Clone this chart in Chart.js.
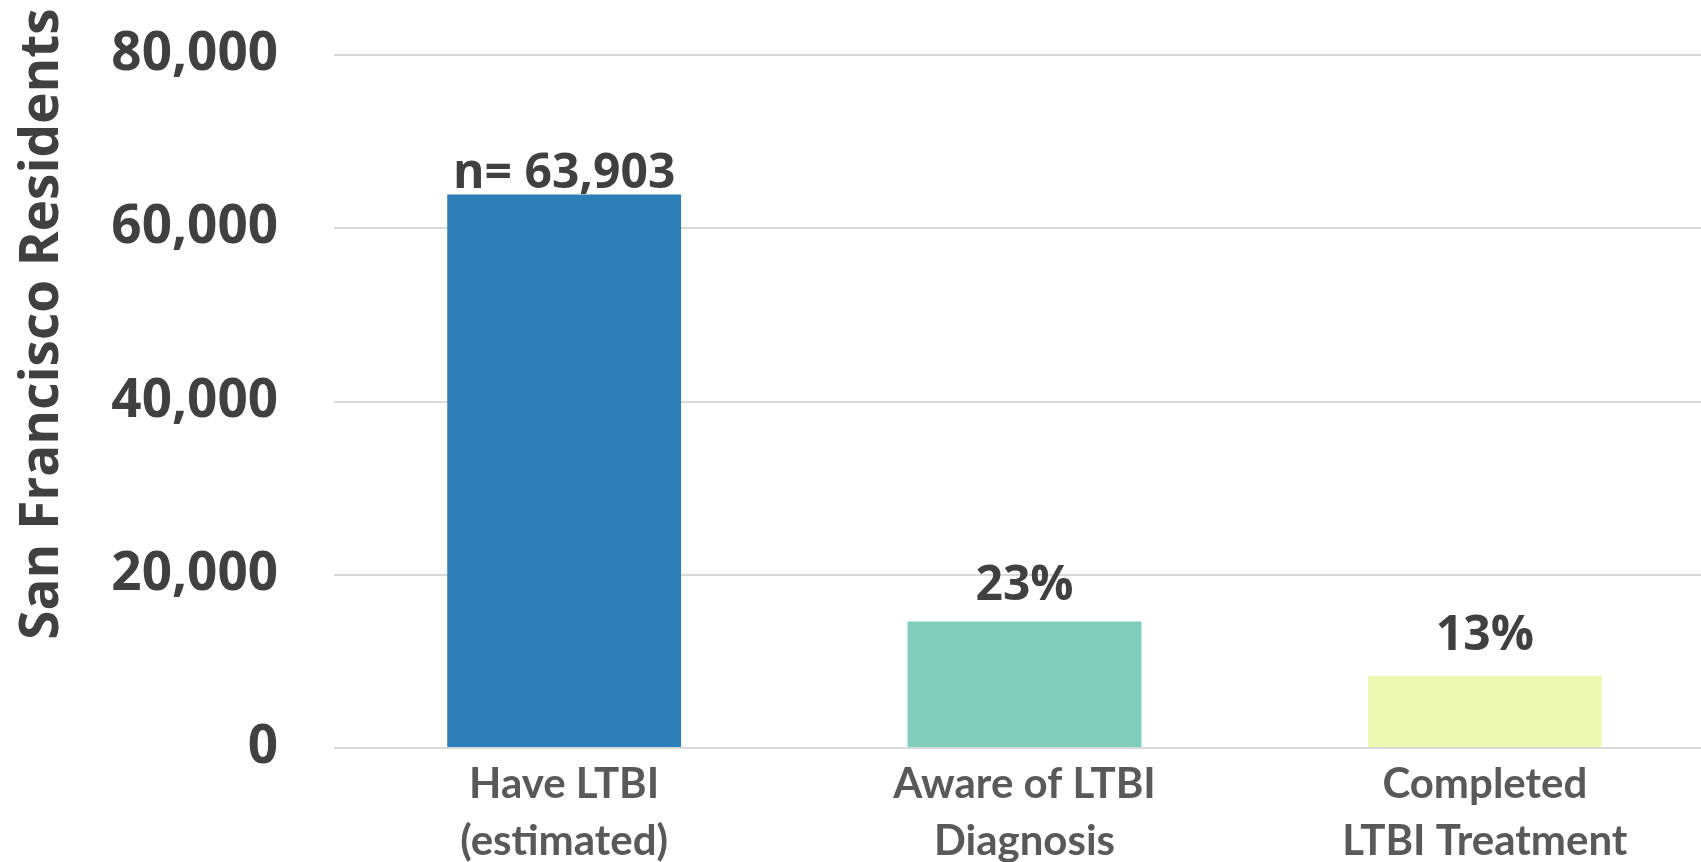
<!DOCTYPE html>
<html>
<head>
<meta charset="utf-8">
<title>LTBI cascade</title>
<script src="https://cdn.jsdelivr.net/npm/chart.js@4/dist/chart.umd.min.js"></script>
<style>
    html, body { margin: 0; padding: 0; background: #fff; overflow: hidden; }
    #wrap { width: 1715px; height: 862px; position: relative; }
</style>
</head>
<body>
<div id="wrap"><canvas id="chart"></canvas></div>
<script>
// Values
var categories = [
    ["Have LTBI", "(estimated)"],
    ["Aware of LTBI", "Diagnosis"],
    ["Completed", "LTBI Treatment"]
];
var residents = [63903, 14600, 8320];
var barLabels = ["n= 63,903", "23%", "13%"];
var barColors = ["#2c7fb8", "#7fcdbb", "#edf8b1"];
var yTicks = [0, 20000, 40000, 60000, 80000];
var yTitle = "San Francisco Residents";

(function () {
    var textDark = "#404040";
    var textGray = "#595959";

    // number labels above each bar
    var barLabelPlugin = {
        id: "barLabels",
        afterDatasetsDraw: function (chart, args, opts) {
            var ctx = chart.ctx;
            var meta = chart.getDatasetMeta(0);
            ctx.save();
            ctx.font = "bold 48px 'Open Sans'";
            ctx.fillStyle = textDark;
            ctx.textAlign = "center";
            ctx.textBaseline = "alphabetic";
            meta.data.forEach(function (bar, i) {
                ctx.fillText(barLabels[i], bar.x, bar.y - opts.gaps[i]);
            });
            ctx.restore();
        }
    };

    // rotated y title, sits a bit above the plot centre like the original
    var yTitlePlugin = {
        id: "yTitle",
        afterDraw: function (chart, args, opts) {
            var ctx = chart.ctx;
            ctx.save();
            ctx.translate(opts.x, opts.y);
            ctx.rotate(-Math.PI / 2);
            ctx.font = "bold 53px 'Open Sans'";
            ctx.fillStyle = textDark;
            ctx.textAlign = "center";
            ctx.textBaseline = "middle";
            ctx.fillText(yTitle, 0, 0);
            ctx.restore();
        }
    };

    new Chart(document.getElementById("chart"), {
        type: "bar",
        data: {
            labels: categories,
            datasets: [{
                data: residents,
                backgroundColor: barColors,
                borderWidth: 0,
                barPercentage: 0.508,
                categoryPercentage: 1
            }]
        },
        options: {
            responsive: true,
            maintainAspectRatio: false,
            animation: false,
            devicePixelRatio: 1,
            layout: { padding: { top: 55, right: 0, bottom: 0, left: 0 } },
            plugins: {
                legend: { display: false },
                tooltip: { enabled: false },
                barLabels: { gaps: [6, 22, 26] },
                yTitle: { x: 43, y: 324 }
            },
            scales: {
                x: {
                    grid: { display: false },
                    border: { display: false },
                    ticks: {
                        color: textGray,
                        font: { family: "Lato", weight: "bold", size: 42, lineHeight: 1.36 },
                        padding: 0,
                        maxRotation: 0,
                        autoSkip: false
                    },
                    afterFit: function (axis) { axis.height = 114; }
                },
                y: {
                    min: 0,
                    max: 80000,
                    afterBuildTicks: function (axis) {
                        axis.ticks = yTicks.map(function (v) { return { value: v }; });
                    },
                    grid: { color: "#d9d9d9", lineWidth: 2, drawTicks: false },
                    border: { display: false },
                    ticks: {
                        color: textDark,
                        font: { family: "'Open Sans'", weight: "bold", size: 53 },
                        padding: 56,
                        callback: function (value) {
                            return Number(value).toLocaleString("en-US");
                        }
                    },
                    afterFit: function (axis) {
                        axis.width = 334;
                        axis.paddingTop = 0;
                        axis.paddingBottom = 0;
                    }
                }
            }
        },
        plugins: [barLabelPlugin, yTitlePlugin]
    });
})();
</script>
</body>
</html>
